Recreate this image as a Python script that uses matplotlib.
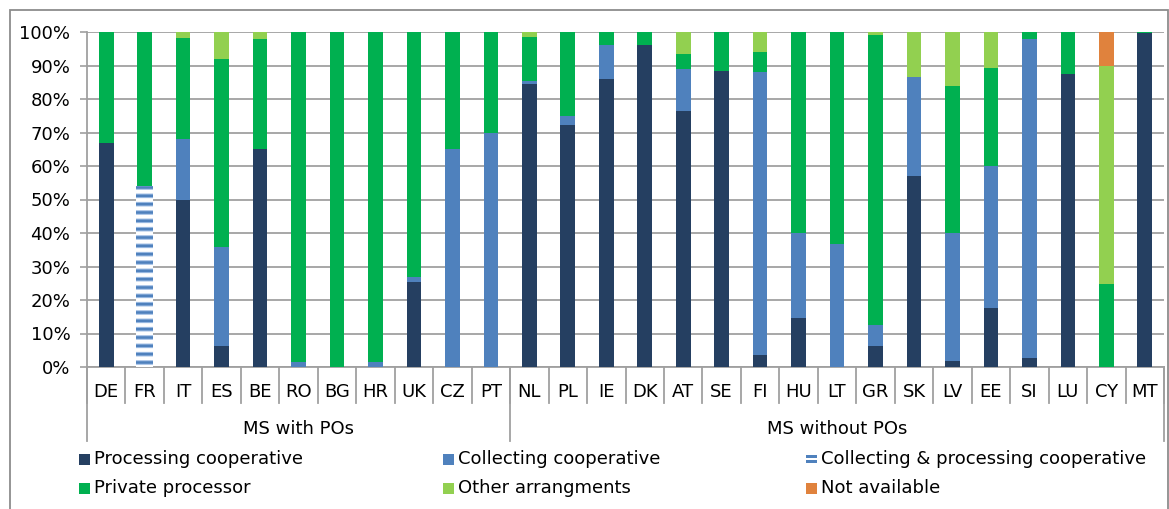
import matplotlib
matplotlib.use("Agg")
import matplotlib.pyplot as plt
from matplotlib.patches import Rectangle
import numpy as np

plt.rcParams['font.family'] = ['DejaVu Sans']
plt.rcParams['hatch.linewidth'] = 2.4

countries = ["DE", "FR", "IT", "ES", "BE", "RO", "BG", "HR", "UK", "CZ", "PT",
             "NL", "PL", "IE", "DK", "AT", "SE", "FI", "HU", "LT", "GR", "SK",
             "LV", "EE", "SI", "LU", "CY", "MT"]
groups = ["MS with POs", "MS without POs"]
group_sizes = [11, 17]

series_names = ["Processing cooperative", "Collecting cooperative",
                "Collecting & processing cooperative", "Private processor",
                "Other arrangments", "Not available"]

processing = [67.0, 0, 50.0, 6.3, 65.0, 0, 0, 0, 25.5, 0, 0,
              84.5, 72.3, 86.0, 96.2, 76.5, 88.4, 3.7, 14.6, 0, 6.3, 57.1,
              1.8, 17.6, 2.7, 87.4, 0, 99.7]
collecting = [0, 0, 18.2, 29.4, 0, 1.4, 0, 1.4, 1.3, 65.0, 70.0,
              1.0, 2.7, 10.0, 0, 12.5, 0, 84.5, 25.3, 36.8, 6.3, 29.4,
              38.1, 42.3, 95.3, 0, 0, 0]
coll_proc = [0, 54.0, 0, 0, 0, 0, 0, 0, 0, 0, 0,
             0, 0, 0, 0, 0, 0, 0, 0, 0, 0, 0,
             0, 0, 0, 0, 0, 0]
private = [33.0, 46.0, 29.9, 56.3, 32.9, 98.6, 100.0, 98.6, 73.2, 35.0, 30.0,
           13.0, 25.0, 4.0, 3.8, 4.4, 11.6, 5.7, 60.1, 63.2, 86.5, 0,
           44.0, 29.4, 2.0, 12.6, 24.8, 0.3]
other = [0, 0, 1.9, 8.0, 2.1, 0, 0, 0, 0, 0, 0,
         1.5, 0, 0, 0, 6.6, 0, 6.1, 0, 0, 0.9, 13.5,
         16.1, 10.7, 0, 0, 65.2, 0]
not_available = [0, 0, 0, 0, 0, 0, 0, 0, 0, 0, 0,
                 0, 0, 0, 0, 0, 0, 0, 0, 0, 0, 0,
                 0, 0, 0, 0, 10.0, 0]

colors = ["#253F61", "#4F81BD", "#4F81BD", "#00B050", "#92D050", "#E0823D"]
all_series = [processing, collecting, coll_proc, private, other, not_available]

W, H = 1169, 509
fig = plt.figure(figsize=(W / 100, H / 100), dpi=100)
ax_l, ax_r, ax_t, ax_b = 87, 1164, 32, 367
ax = fig.add_axes([ax_l / W, (H - ax_b) / H, (ax_r - ax_l) / W, (ax_b - ax_t) / H])

x = np.arange(len(countries))
bottom = np.zeros(len(countries))
for k, (vals, col) in enumerate(zip(all_series, colors)):
    v = np.array(vals) / 100.0
    if k == 2:
        under = ax.bar(x, v, width=0.44, bottom=bottom, facecolor="white",
                       edgecolor="#9DBCE4", hatch="--", linewidth=0, zorder=3)
        top = ax.bar(x, v, width=0.44, bottom=bottom, facecolor="none",
                     edgecolor=col, hatch="--", linewidth=0, zorder=3.1)
        if hasattr(under.patches[0], "set_hatch_linewidth"):
            for p in under.patches:
                p.set_hatch_linewidth(3.3)
            for p in top.patches:
                p.set_hatch_linewidth(1.8)
    else:
        ax.bar(x, v, width=0.38, bottom=bottom, color=col, linewidth=0, zorder=3)
    bottom += v

grid_col = "#A0A0A0"
ax.set_xlim(-0.5, len(countries) - 0.5)
ax.set_ylim(0, 1)
ticks = np.arange(0, 1.01, 0.1)
ax.set_yticks(ticks)
ax.set_yticklabels([f"{int(round(t * 100))}%" for t in ticks], fontsize=13)
ax.yaxis.grid(True, color=grid_col, linewidth=1.3, zorder=0)
ax.set_axisbelow(True)
ax.tick_params(axis="y", length=5, width=1.2, color=grid_col, pad=7, labelcolor="black")
ax.set_xticks([])
for s in ["top", "right"]:
    ax.spines[s].set_visible(False)
ax.spines["left"].set_color(grid_col)
ax.spines["left"].set_linewidth(1.3)
ax.spines["bottom"].set_color(grid_col)
ax.spines["bottom"].set_linewidth(1.3)

trans = ax.get_xaxis_transform()
axh = ax_b - ax_t
def ay(py):
    return (ax_b - py) / axh

# category separators and labels
for i in range(len(countries) + 1):
    ax.plot([i - 0.5, i - 0.5], [0, ay(403)], transform=trans, color=grid_col,
            linewidth=1.3, clip_on=False)
for i, c in enumerate(countries):
    ax.text(i, ay(392), c, transform=trans, ha="center", va="center", fontsize=13)

# group separators and labels
start = 0
bounds = [-0.5]
for g, n in zip(groups, group_sizes):
    ax.text(start + (n - 1) / 2, ay(429), g, transform=trans, ha="center",
            va="center", fontsize=13)
    start += n
    bounds.append(start - 0.5)
for b in bounds:
    ax.plot([b, b], [0, ay(441)], transform=trans, color=grid_col,
            linewidth=1.3, clip_on=False)

# legend (manual)
leg_cols = [79, 443, 806]
leg_rows = [459, 488]
for k, (name, col) in enumerate(zip(series_names, colors)):
    cx = leg_cols[k % 3]
    cy = leg_rows[k // 3]
    sq = 11
    if k == 2:
        for off in (-3, 2):
            fig.patches.append(Rectangle((cx / W, (H - (cy + off + 1.5)) / H), sq / W, 2.6 / H,
                                         transform=fig.transFigure, facecolor=col,
                                         edgecolor="none"))
    else:
        fig.patches.append(Rectangle((cx / W, (H - (cy + sq / 2)) / H), sq / W, sq / H,
                                     transform=fig.transFigure, facecolor=col,
                                     edgecolor="none"))
    fig.text((cx + 15) / W, (H - cy) / H, name, ha="left", va="center", fontsize=13)

# outer frame
fig.patches.append(Rectangle((10 / W, -0.01), (W - 11.5) / W, (H - 10) / H + 0.01,
                             transform=fig.transFigure, facecolor="none",
                             edgecolor="#8C8C8C", linewidth=1.3))

fig.savefig("out.png", dpi=100)
